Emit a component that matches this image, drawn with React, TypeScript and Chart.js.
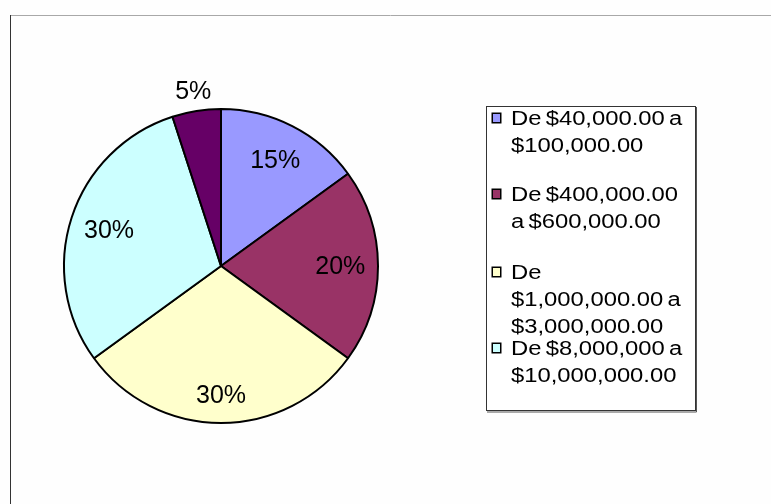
import React, { useEffect, useRef } from "react";
import { Chart, registerables } from "chart.js";

Chart.register(...registerables);

// ---- data ----
const categories = [
  "De $40,000.00 a $100,000.00",
  "De $400,000.00 a $600,000.00",
  "De $1,000,000.00 a $3,000,000.00",
  "De $8,000,000 a $10,000,000.00",
  "",
];
const values = [15, 20, 30, 30, 5];
const colors = ["#9999FF", "#993366", "#FFFFCC", "#CCFFFF", "#660066"];
// legend text exactly as wrapped in the reference (only four entries are visible)
const legendLines = [
  ["De $40,000.00 a", "$100,000.00"],
  ["De $400,000.00", "a $600,000.00"],
  ["De", "$1,000,000.00 a", "$3,000,000.00"],
  ["De $8,000,000 a", "$10,000,000.00"],
];

const FONT = "'Liberation Sans', Arial, sans-serif";

const framePlugin = {
  id: "frame",
  beforeDraw(chart: any) {
    const ctx = chart.ctx;
    ctx.save();
    ctx.fillStyle = "#fefefe";
    ctx.fillRect(0, 0, chart.width, chart.height);
    ctx.lineWidth = 1;
    ctx.strokeStyle = "#a8a8a8";
    ctx.beginPath();
    ctx.moveTo(10, 15.5);
    ctx.lineTo(chart.width, 15.5);
    ctx.stroke();
    ctx.strokeStyle = "#333333";
    ctx.beginPath();
    ctx.moveTo(10.5, 15);
    ctx.lineTo(10.5, chart.height);
    ctx.stroke();
    ctx.restore();
  },
};

const labelFactors = [0.76, 0.76, 0.82, 0.75, 1.13];

const pctLabelPlugin = {
  id: "pctLabels",
  afterDatasetsDraw(chart: any) {
    const ctx = chart.ctx;
    const meta = chart.getDatasetMeta(0);
    const data = chart.data.datasets[0].data as number[];
    const total = data.reduce((a, b) => a + b, 0);
    ctx.save();
    ctx.font = `25px ${FONT}`;
    ctx.fillStyle = "#000";
    ctx.textAlign = "center";
    ctx.textBaseline = "middle";
    meta.data.forEach((arc: any, i: number) => {
      const p = arc.getProps(["x", "y", "startAngle", "endAngle", "outerRadius"], true);
      const mid = (p.startAngle + p.endAngle) / 2;
      const r = p.outerRadius * labelFactors[i];
      const txt = Math.round((data[i] / total) * 100) + "%";
      ctx.fillText(txt, p.x + Math.cos(mid) * r, p.y + Math.sin(mid) * r + 1);
    });
    ctx.restore();
  },
};

const legendPlugin = {
  id: "customLegend",
  afterDraw(chart: any) {
    const ctx = chart.ctx;
    ctx.save();
    // box
    ctx.fillStyle = "#ffffff";
    ctx.fillRect(486, 106, 210, 305);
    ctx.strokeStyle = "#333333";
    ctx.lineWidth = 1;
    ctx.strokeRect(486.5, 106.5, 209, 304);
    ctx.strokeStyle = "#555";
    ctx.beginPath();
    ctx.moveTo(696.5, 107);
    ctx.lineTo(696.5, 412);
    ctx.lineTo(487, 412);
    ctx.stroke();

    const firstBaselines = [125, 201, 279, 355];
    const lineH = 27;
    const sx = 1.19;
    ctx.font = `20px ${FONT}`;
    try {
      (ctx as any).wordSpacing = "-2px";
    } catch (e) {}
    ctx.textAlign = "left";
    ctx.textBaseline = "alphabetic";
    legendLines.forEach((lines, i) => {
      const b0 = firstBaselines[i];
      // swatch
      ctx.fillStyle = colors[i];
      ctx.fillRect(492, b0 - 12, 9, 10);
      ctx.strokeStyle = "#000";
      ctx.lineWidth = 1.5;
      ctx.strokeRect(492.25, b0 - 11.75, 8.5, 9.5);
      ctx.fillStyle = "#000";
      lines.forEach((t, j) => {
        ctx.save();
        ctx.translate(511, b0 + j * lineH);
        ctx.scale(sx, 1);
        ctx.fillText(t, 0, 0);
        ctx.restore();
      });
    });
    ctx.restore();
  },
};

export default function App() {
  const ref = useRef<HTMLCanvasElement | null>(null);
  useEffect(() => {
    document.body.style.margin = "0";
    const canvas = ref.current!;
    const chart = new Chart(canvas, {
      type: "pie",
      data: {
        labels: categories,
        datasets: [
          {
            data: values,
            backgroundColor: colors,
            borderColor: "#000000",
            borderWidth: 2,
          },
        ],
      },
      options: {
        responsive: false,
        animation: false,
        rotation: 0,
        layout: { padding: { left: 63, right: 392, top: 108, bottom: 80 } },
        plugins: {
          legend: { display: false },
          tooltip: { enabled: false },
          title: { display: false },
        },
      },
      plugins: [framePlugin, pctLabelPlugin, legendPlugin],
    });
    return () => chart.destroy();
  }, []);
  return (
    <div style={{ position: "absolute", left: 0, top: 0, width: 771, height: 504, background: "#fefefe" }}>
      <canvas ref={ref} width={771} height={504} style={{ display: "block" }} />
    </div>
  );
}
